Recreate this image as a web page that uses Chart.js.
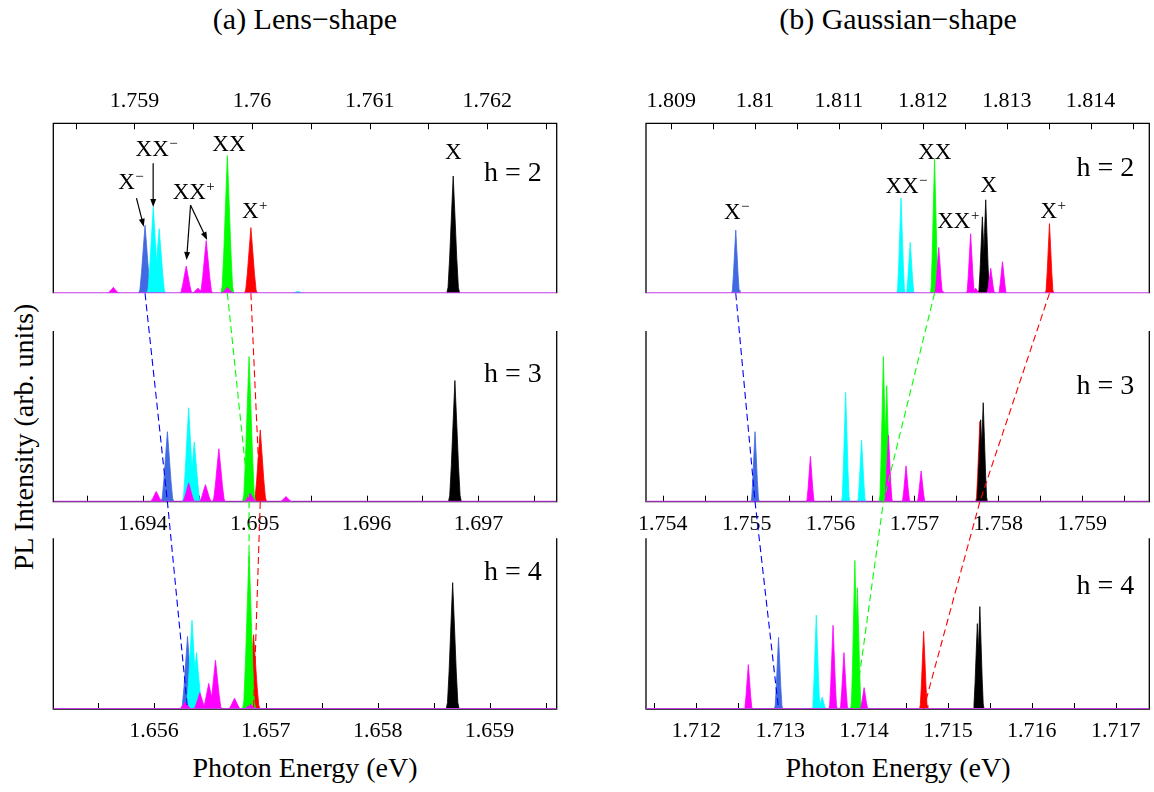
<!DOCTYPE html>
<html>
<head>
<meta charset="utf-8">
<script src="https://cdn.jsdelivr.net/npm/chart.js@4.4.1/dist/chart.umd.min.js"></script>
<style>
html,body{margin:0;padding:0;background:#fff;}
#wrap{position:relative;width:1154px;height:792px;overflow:hidden;background:#fff;}
#wrap canvas{position:absolute;left:0;top:0;}
.t{position:absolute;font-family:"Liberation Serif","Times New Roman",serif;color:#000;white-space:nowrap;line-height:1;}
</style>
</head>
<body>
<div id="wrap">
  <div class="t" style="font-size:30px;left:305px;top:19px;transform:translate(-50%,-50%)">(a) Lens−shape</div>
  <div class="t" style="font-size:30px;left:898px;top:19px;transform:translate(-50%,-50%)">(b) Gaussian−shape</div>
  <div class="t" style="font-size:28px;left:24px;top:437px;transform:translate(-50%,-50%) rotate(-90deg)">PL Intensity (arb. units)</div>
  <div class="t" style="font-size:28px;left:305px;top:768px;transform:translate(-50%,-50%)">Photon Energy (eV)</div>
  <div class="t" style="font-size:28px;left:898px;top:768px;transform:translate(-50%,-50%)">Photon Energy (eV)</div>
</div>
<script>
// ---------------- DATA ----------------
// Peak types: B = X− (blue), C = XX− (cyan), M = XX+ (magenta), G = XX (green), R = X+ (red), K = X (black)

// (a) Lens-shape, h = 2
const a2Energy = [1.75882, 1.75909, 1.75916, 1.75921, 1.75944, 1.75954, 1.75961, 1.75979, 1.75979, 1.75999, 1.76039, 1.76171];
const a2Height = [0.035, 0.40, 0.51, 0.38, 0.16, 0.03, 0.31, 0.81, 0.035, 0.386, 0.012, 0.69];
const a2Type   = ['M', 'B', 'C', 'C', 'M', 'M', 'M', 'G', 'M', 'R', 'C', 'K'];
const a2Ticks  = ['1.759', '1.76', '1.761', '1.762'];
const a2Range  = [1.75831, 1.76259];

// (a) Lens-shape, h = 3
const a3Energy = [1.69412, 1.69422, 1.69441, 1.69446, 1.69441, 1.69456, 1.69468, 1.69495, 1.69505, 1.69496, 1.69528, 1.69679];
const a3Height = [0.06, 0.41, 0.55, 0.35, 0.11, 0.10, 0.31, 0.85, 0.42, 0.05, 0.03, 0.71];
const a3Type   = ['M', 'B', 'C', 'C', 'M', 'M', 'M', 'G', 'R', 'M', 'M', 'K'];
const a3Ticks  = ['1.694', '1.695', '1.696', '1.697'];
const a3Range  = [1.69320, 1.69770];

// (a) Lens-shape, h = 4
const a4Energy = [1.65628, 1.65630, 1.65634, 1.65638, 1.65641, 1.65649, 1.65655, 1.65672, 1.65689, 1.65685, 1.65686, 1.65867];
const a4Height = [0.04, 0.425, 0.52, 0.33, 0.096, 0.15, 0.285, 0.063, 0.435, 0.92, 0.03, 0.74];
const a4Type   = ['M', 'B', 'C', 'C', 'M', 'M', 'M', 'M', 'R', 'G', 'M', 'K'];
const a4Ticks  = ['1.656', '1.657', '1.658', '1.659'];
const a4Range  = [1.65510, 1.65960];

// (b) Gaussian-shape, h = 2
const b2Energy = [1.80977, 1.81174, 1.81185, 1.81214, 1.81219, 1.81257, 1.81263, 1.81271, 1.81275, 1.81281, 1.81295, 1.81351];
const b2Height = [0.372, 0.56, 0.30, 0.79, 0.27, 0.35, 0.03, 0.45, 0.55, 0.147, 0.186, 0.41];
const b2Type   = ['B', 'C', 'C', 'G', 'M', 'M', 'M', 'K', 'K', 'M', 'M', 'R'];
const b2Ticks  = ['1.809', '1.81', '1.811', '1.812', '1.813', '1.814'];
const b2Range  = [1.80870, 1.81470];

// (b) Gaussian-shape, h = 3
const b3Energy = [1.75510, 1.75576, 1.75618, 1.75637, 1.75663, 1.75667, 1.75669, 1.75690, 1.75708, 1.75778, 1.75779, 1.75782];
const b3Height = [0.41, 0.265, 0.64, 0.36, 0.85, 0.68, 0.39, 0.21, 0.18, 0.47, 0.48, 0.58];
const b3Type   = ['B', 'M', 'C', 'C', 'G', 'G', 'M', 'M', 'M', 'R', 'K', 'K'];
const b3Ticks  = ['1.754', '1.755', '1.756', '1.757', '1.758', '1.759'];
const b3Range  = [1.75380, 1.75980];

// (b) Gaussian-shape, h = 4
const b4Energy = [1.71262, 1.71298, 1.71343, 1.71350, 1.71363, 1.71376, 1.71389, 1.71392, 1.71400, 1.71471, 1.71535, 1.71538];
const b4Height = [0.26, 0.42, 0.55, 0.07, 0.49, 0.33, 0.87, 0.71, 0.125, 0.455, 0.50, 0.60];
const b4Type   = ['M', 'B', 'C', 'C', 'M', 'M', 'G', 'G', 'M', 'R', 'K', 'K'];
const b4Ticks  = ['1.712', '1.713', '1.714', '1.715', '1.716', '1.717'];
const b4Range  = [1.71140, 1.71740];

// Peak labels (text anchored in data units: energy, relative intensity)
const a2Labels = [
  {base:'X',  sup:'−', x:1.758932, y:0.649},
  {base:'XX', sup:'−', x:1.759151, y:0.843},
  {base:'XX', sup:'+', x:1.759466, y:0.588},
  {base:'XX', sup:'',  x:1.759803, y:0.872},
  {base:'X',  sup:'+', x:1.759985, y:0.480},
  {base:'X',  sup:'',  x:1.761711, y:0.824}
];
const a2Arrows = [
  [1.759017, 0.560, 1.759079, 0.392],
  [1.759159, 0.765, 1.759159, 0.508],
  [1.759477, 0.518, 1.759443, 0.196],
  [1.759477, 0.518, 1.759618, 0.314]
];
const b2Labels = [
  {base:'X',  sup:'−', x:1.809729, y:0.471},
  {base:'XX', sup:'−', x:1.811752, y:0.627},
  {base:'XX', sup:'',  x:1.812143, y:0.828},
  {base:'X',  sup:'',  x:1.812788, y:0.632},
  {base:'XX', sup:'+', x:1.812369, y:0.421},
  {base:'X',  sup:'+', x:1.813502, y:0.480}
];
const hLabels = ['h = 2', 'h = 3', 'h = 4'];

// ---------------- STYLE ----------------
const TYPE_COLORS = {B:'#4169e1', C:'#00ffff', M:'#ff00ff', G:'#00ff00', R:'#ff0000', K:'#000000'};
const LINK_COLORS = {B:'#0000ff', G:'#00ff00', R:'#ff0000'};
const DRAW_ORDER = ['B', 'C', 'R', 'G', 'K', 'M'];
const BASELINE_COLOR = '#c63ce8';
const PEAK_PROFILE = [[-1,0],[-0.8,0.05],[-0.55,0.3],[-0.28,0.65],[0,1],[0.28,0.65],[0.55,0.3],[0.8,0.05],[1,0]];
const FONT = '"Liberation Serif","Times New Roman",serif';
const AXH = 40;

const LX = [53.3, 556.7], RX = [646, 1149.3];
const ROWS = [[123.3, 293.3], [331, 501.7], [538.3, 709]];

const PANELS = [
  {energy:a2Energy, height:a2Height, type:a2Type, ticks:a2Ticks, range:a2Range, hw:0.000055, xs:LX, row:0, axis:'top',    h:hLabels[0], hy:0.702, labels:a2Labels, arrows:a2Arrows},
  {energy:a3Energy, height:a3Height, type:a3Type, ticks:a3Ticks, range:a3Range, hw:0.000058, xs:LX, row:1, axis:'bottom', h:hLabels[1], hy:0.745},
  {energy:a4Energy, height:a4Height, type:a4Type, ticks:a4Ticks, range:a4Range, hw:0.000058, xs:LX, row:2, axis:'bottom', h:hLabels[2], hy:0.800},
  {energy:b2Energy, height:b2Height, type:b2Type, ticks:b2Ticks, range:b2Range, hw:0.000050, xs:RX, row:0, axis:'top',    h:hLabels[0], hy:0.734, labels:b2Labels},
  {energy:b3Energy, height:b3Height, type:b3Type, ticks:b3Ticks, range:b3Range, hw:0.000050, xs:RX, row:1, axis:'bottom', h:hLabels[1], hy:0.672},
  {energy:b4Energy, height:b4Height, type:b4Type, ticks:b4Ticks, range:b4Range, hw:0.000050, xs:RX, row:2, axis:'bottom', h:hLabels[2], hy:0.718}
];

const wrap = document.getElementById('wrap');
const charts = [];
const panelOf = chart => chart.canvas.$panel;

const framePlugin = {
  id: 'frame',
  beforeDatasetsDraw(chart) {
    const p = panelOf(chart);
    if (!p) return;
    const ctx = chart.ctx;
    const {left, right, top, bottom} = chart.chartArea;
    const xs = chart.scales.x;
    ctx.save();
    ctx.strokeStyle = '#000';
    ctx.lineWidth = 1.3;
    ctx.beginPath();
    if (p.axis === 'top') {
      ctx.moveTo(left, bottom); ctx.lineTo(left, top); ctx.lineTo(right, top); ctx.lineTo(right, bottom);
    } else {
      ctx.moveTo(left, top); ctx.lineTo(left, bottom); ctx.lineTo(right, bottom); ctx.lineTo(right, top);
    }
    ctx.stroke();
    // tick marks (major at labelled values, minor at half steps)
    const vals = p.ticks.map(Number);
    const half = (vals[1] - vals[0]) / 2;
    const k0 = Math.ceil(p.range[0] / half - 1e-6), k1 = Math.floor(p.range[1] / half + 1e-6);
    ctx.lineWidth = 1;
    ctx.beginPath();
    for (let k = k0; k <= k1; k++) {
      const px = Math.round(xs.getPixelForValue(k * half)) + 0.5;
      if (px <= left + 2 || px >= right - 2) continue;
      if (p.axis === 'top') { ctx.moveTo(px, top); ctx.lineTo(px, top + 6); }
      else { ctx.moveTo(px, bottom); ctx.lineTo(px, bottom - 6); }
    }
    ctx.stroke();
    ctx.restore();
  },
  afterDatasetsDraw(chart) {
    const p = panelOf(chart);
    if (!p) return;
    const ctx = chart.ctx;
    const xs = chart.scales.x, ys = chart.scales.y;
    ctx.save();
    ctx.fillStyle = '#000';
    ctx.strokeStyle = '#000';
    // h label
    ctx.font = '28px ' + FONT;
    ctx.textAlign = 'right';
    ctx.textBaseline = 'middle';
    ctx.fillText(p.h, chart.chartArea.right - 15, ys.getPixelForValue(p.hy));
    // peak labels
    (p.labels || []).forEach(l => {
      const cx = xs.getPixelForValue(l.x), cy = ys.getPixelForValue(l.y);
      ctx.font = '23px ' + FONT;
      const wb = ctx.measureText(l.base).width;
      ctx.textAlign = 'center';
      ctx.textBaseline = 'middle';
      ctx.fillText(l.base, cx, cy);
      if (l.sup) {
        ctx.font = '15px ' + FONT;
        ctx.textAlign = 'left';
        ctx.fillText(l.sup, cx + wb / 2 + 0.5, cy - 6);
      }
    });
    // arrows
    (p.arrows || []).forEach(a => {
      const x0 = xs.getPixelForValue(a[0]), y0 = ys.getPixelForValue(a[1]);
      const x1 = xs.getPixelForValue(a[2]), y1 = ys.getPixelForValue(a[3]);
      const ang = Math.atan2(y1 - y0, x1 - x0);
      const L = 8, W = 3;
      ctx.lineWidth = 1.2;
      ctx.beginPath();
      ctx.moveTo(x0, y0);
      ctx.lineTo(x1 - Math.cos(ang) * L * 0.8, y1 - Math.sin(ang) * L * 0.8);
      ctx.stroke();
      ctx.beginPath();
      ctx.moveTo(x1, y1);
      ctx.lineTo(x1 - Math.cos(ang) * L - Math.sin(ang) * W, y1 - Math.sin(ang) * L + Math.cos(ang) * W);
      ctx.lineTo(x1 - Math.cos(ang) * L + Math.sin(ang) * W, y1 - Math.sin(ang) * L - Math.cos(ang) * W);
      ctx.closePath();
      ctx.fill();
    });
    ctx.restore();
  }
};

// dashed connectors between the same line in successive panels (drawn by last chart)
const linkPlugin = {
  id: 'links',
  afterDraw(chart) {
    if (charts.length < PANELS.length) return;
    const ctx = chart.ctx;
    ctx.save();
    ctx.lineWidth = 1.1;
    ctx.setLineDash([7, 4]);
    [[0, 1, 2], [3, 4, 5]].forEach(col => {
      ['B', 'G', 'R'].forEach(t => {
        ctx.strokeStyle = LINK_COLORS[t];
        ctx.beginPath();
        col.forEach((ci, j) => {
          const c = charts[ci], p = panelOf(c);
          let best = -1;
          p.type.forEach((ty, i) => { if (ty === t && (best < 0 || p.height[i] > p.height[best])) best = i; });
          const px = c.scales.x.getPixelForValue(p.energy[best]);
          const py = c.scales.y.getPixelForValue(0);
          if (j === 0) ctx.moveTo(px, py); else ctx.lineTo(px, py);
        });
        ctx.stroke();
      });
    });
    ctx.restore();
  }
};

PANELS.forEach((p, pi) => {
  const canvas = document.createElement('canvas');
  canvas.width = 1154; canvas.height = 792;
  canvas.$panel = p;
  wrap.appendChild(canvas);
  const [L, R] = p.xs;
  const [T, B] = ROWS[p.row];
  const padding = p.axis === 'top'
    ? {left: L, right: 1154 - R, top: T - AXH, bottom: 792 - B}
    : {left: L, right: 1154 - R, top: T, bottom: 792 - B - AXH};

  const idx = p.energy.map((_, i) => i)
    .sort((a, b) => DRAW_ORDER.indexOf(p.type[a]) - DRAW_ORDER.indexOf(p.type[b]));
  const datasets = idx.map(i => ({
    data: PEAK_PROFILE.map(([u, v]) => ({x: p.energy[i] + u * p.hw, y: v * p.height[i]})),
    backgroundColor: TYPE_COLORS[p.type[i]],
    borderColor: TYPE_COLORS[p.type[i]],
    borderWidth: 0.8,
    fill: 'origin',
    pointRadius: 0,
    tension: 0
  }));
  datasets.push({
    data: [{x: p.range[0], y: 0}, {x: p.range[1], y: 0}],
    borderColor: BASELINE_COLOR, borderWidth: 2, pointRadius: 0, fill: false
  });
  datasets.forEach((d, i) => { d.order = -i; });

  const tickVals = p.ticks.map(Number);
  const plugins = [framePlugin];
  if (pi === PANELS.length - 1) plugins.push(linkPlugin);

  const chart = new Chart(canvas, {
    type: 'line',
    data: {datasets},
    options: {
      responsive: false,
      animation: false,
      devicePixelRatio: 1,
      events: [],
      layout: {padding},
      plugins: {legend: {display: false}, tooltip: {enabled: false}},
      scales: {
        x: {
          type: 'linear',
          position: p.axis,
          min: p.range[0],
          max: p.range[1],
          afterBuildTicks: s => { s.ticks = tickVals.map(v => ({value: v})); },
          afterFit: s => { s.height = AXH; },
          ticks: {
            callback: (v, i) => p.ticks[i],
            font: {family: FONT, size: 22},
            color: '#000',
            padding: 9,
            maxRotation: 0,
            autoSkip: false
          },
          grid: {display: false, drawTicks: false},
          border: {display: false}
        },
        y: {type: 'linear', min: 0, max: 1, display: false}
      }
    },
    plugins
  });
  charts.push(chart);
});
// redraw last chart so that connectors use all scales
charts[charts.length - 1].draw();
</script>
</body>
</html>
